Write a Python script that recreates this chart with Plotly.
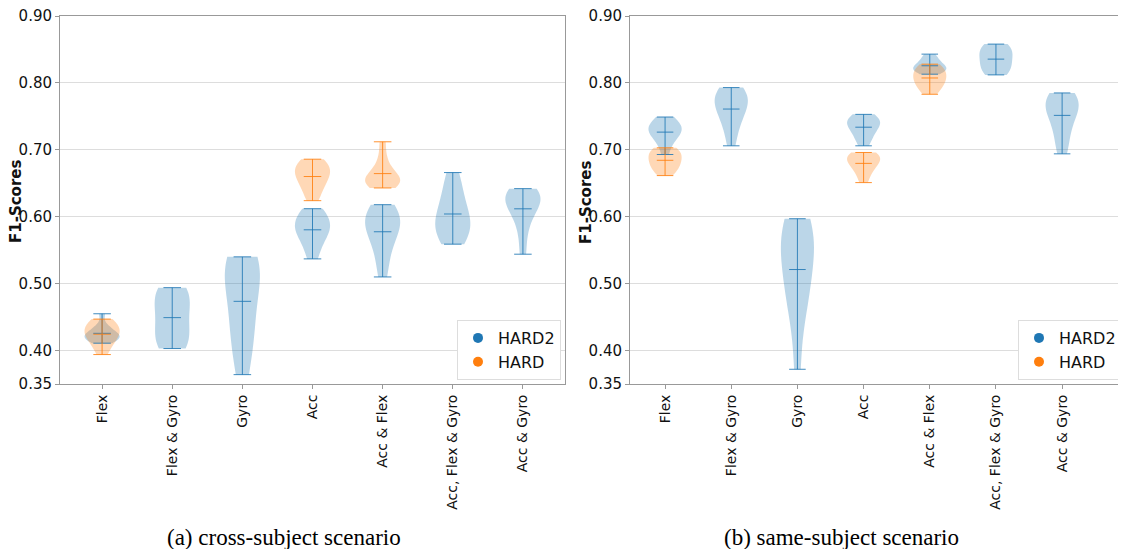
import numpy as np
import plotly.graph_objects as go

categories = ["Flex", "Flex & Gyro", "Gyro", "Acc", "Acc & Flex", "Acc, Flex & Gyro", "Acc & Gyro"]

# (a) cross-subject scenario
cross_hard2 = [
    [0.411, 0.414, 0.417, 0.419, 0.421, 0.423, 0.425, 0.428, 0.432, 0.438, 0.455],
    [0.403, 0.406, 0.415, 0.425, 0.437, 0.450, 0.462, 0.474, 0.484, 0.491, 0.494],
    [0.364, 0.395, 0.425, 0.440, 0.460, 0.490, 0.510, 0.520, 0.530, 0.535, 0.540],
    [0.537, 0.552, 0.565, 0.572, 0.578, 0.583, 0.588, 0.593, 0.599, 0.606, 0.612],
    [0.510, 0.535, 0.555, 0.568, 0.578, 0.585, 0.592, 0.598, 0.604, 0.610, 0.618],
    [0.559, 0.568, 0.576, 0.583, 0.590, 0.598, 0.607, 0.618, 0.632, 0.648, 0.666],
    [0.544, 0.575, 0.595, 0.607, 0.615, 0.621, 0.626, 0.631, 0.635, 0.639, 0.642],
]
cross_hard = [
    [0.394, 0.405, 0.413, 0.418, 0.422, 0.426, 0.430, 0.434, 0.438, 0.442, 0.447],
    None,
    None,
    [0.624, 0.636, 0.645, 0.652, 0.658, 0.663, 0.668, 0.672, 0.676, 0.681, 0.686],
    [0.643, 0.646, 0.649, 0.652, 0.655, 0.658, 0.662, 0.667, 0.675, 0.690, 0.712],
    None,
    None,
]

# (b) same-subject scenario
same_hard2 = [
    [0.693, 0.708, 0.716, 0.721, 0.725, 0.729, 0.732, 0.735, 0.739, 0.744, 0.749],
    [0.706, 0.728, 0.742, 0.752, 0.760, 0.767, 0.773, 0.778, 0.783, 0.788, 0.793],
    [0.372, 0.450, 0.480, 0.490, 0.515, 0.540, 0.555, 0.567, 0.578, 0.588, 0.597],
    [0.706, 0.715, 0.722, 0.728, 0.733, 0.737, 0.740, 0.743, 0.746, 0.749, 0.753],
    [0.813, 0.816, 0.818, 0.820, 0.822, 0.824, 0.826, 0.829, 0.833, 0.838, 0.843],
    [0.812, 0.815, 0.820, 0.826, 0.831, 0.836, 0.841, 0.846, 0.851, 0.855, 0.858],
    [0.694, 0.712, 0.728, 0.742, 0.752, 0.760, 0.766, 0.771, 0.776, 0.780, 0.785],
]
same_hard = [
    [0.6615, 0.668, 0.673, 0.677, 0.681, 0.685, 0.689, 0.693, 0.697, 0.700, 0.703],
    None,
    None,
    [0.651, 0.662, 0.670, 0.675, 0.679, 0.683, 0.686, 0.689, 0.692, 0.694, 0.696],
    [0.783, 0.790, 0.796, 0.800, 0.804, 0.808, 0.812, 0.816, 0.820, 0.824, 0.828],
    None,
    None,
]

y_ticks = [0.35, 0.40, 0.50, 0.60, 0.70, 0.80, 0.90]
y_tick_labels = ["0.35", "0.40", "0.50", "0.60", "0.70", "0.80", "0.90"]
series_names = ["HARD2", "HARD"]
captions = ["(a) cross-subject scenario", "(b) same-subject scenario"]

BLUE = "#1f77b4"
ORANGE = "#ff7f0e"
FILL = {BLUE: "rgba(31,119,180,0.3)", ORANGE: "rgba(255,127,14,0.3)"}
LINE = {BLUE: "rgba(31,119,180,0.85)", ORANGE: "rgba(255,127,14,0.85)"}
HALF = 0.125

fig = go.Figure()


def add_series(data, color, xref, yref):
    bx, by = [], []
    for i, vals in enumerate(data):
        if vals is None:
            continue
        pos = i + 1
        fig.add_trace(go.Violin(
            x=[pos] * len(vals), y=vals, xaxis=xref, yaxis=yref,
            width=0.5, scalemode="width", spanmode="hard",
            points=False, fillcolor=FILL[color],
            line=dict(color="rgba(0,0,0,0)", width=0),
            showlegend=False, hoverinfo="skip",
        ))
        lo, hi, mu = float(np.min(vals)), float(np.max(vals)), float(np.mean(vals))
        for v in (lo, mu, hi):
            bx += [pos - HALF, pos + HALF, None]
            by += [v, v, None]
        bx += [pos, pos, None]
        by += [lo, hi, None]
    fig.add_trace(go.Scatter(x=bx, y=by, mode="lines", xaxis=xref, yaxis=yref,
                             line=dict(color=LINE[color], width=1), showlegend=False,
                             hoverinfo="skip"))


add_series(cross_hard2, BLUE, "x", "y")
add_series(cross_hard, ORANGE, "x", "y")
add_series(same_hard2, BLUE, "x2", "y2")
add_series(same_hard, ORANGE, "x2", "y2")

for name, color in zip(series_names, [BLUE, ORANGE]):
    fig.add_trace(go.Scatter(x=[None], y=[None], mode="markers", name=name,
                             marker=dict(color=color, size=10),
                             xaxis="x", yaxis="y", legend="legend"))
    fig.add_trace(go.Scatter(x=[None], y=[None], mode="markers", name=name,
                             marker=dict(color=color, size=10),
                             xaxis="x2", yaxis="y2", legend="legend2"))

# page body adds an 8px offset; work in window pixels and convert
OFF = 8
W, H = 1126 - OFF, 549 - OFF


def px(xw):
    return (xw - OFF) / W


def py(yw):
    return 1 - (yw - OFF) / H


ydom = [py(384), py(16)]
ytickfont = dict(family="DejaVu Sans", size=15, color="#111")
xtickfont = dict(family="DejaVu Sans", size=14, color="#111")
axcol = "#999999"

common_x = dict(tickmode="array", tickvals=list(range(1, 8)), ticktext=categories,
                tickangle=-90, tickfont=xtickfont, showgrid=False, zeroline=False,
                showline=True, linecolor=axcol, mirror=True, ticks="outside",
                ticklen=4, tickcolor=axcol, automargin=False)
common_y = dict(tickmode="array", tickvals=y_ticks, ticktext=y_tick_labels,
                range=[0.35, 0.90], tickfont=ytickfont, showgrid=True,
                gridcolor="#dddddd", gridwidth=1, zeroline=False, showline=True,
                linecolor=axcol, mirror=True, ticks="outside", ticklen=4,
                tickcolor=axcol, automargin=False, ticklabeloverflow="allow")

legfont = dict(family="DejaVu Sans", size=16, color="#111")
fig.update_layout(
    width=W, height=H, autosize=False,
    margin=dict(l=0, r=0, t=0, b=0),
    paper_bgcolor="white", plot_bgcolor="white",
    violinmode="overlay",
    xaxis=dict(domain=[px(60), px(565)], range=[0.4, 7.6], anchor="y", **common_x),
    yaxis=dict(domain=ydom, anchor="x", **common_y),
    xaxis2=dict(domain=[px(630), px(1123)], range=[0.47, 7.92], anchor="y2", **common_x),
    yaxis2=dict(domain=ydom, anchor="x2", **common_y),
    legend=dict(x=px(561), y=py(380), xanchor="right", yanchor="bottom",
                bgcolor="white", bordercolor="#dddddd", borderwidth=1, font=legfont,
                tracegroupgap=0),
    legend2=dict(x=px(1122), y=py(380), xanchor="right", yanchor="bottom",
                 bgcolor="white", bordercolor="#dddddd", borderwidth=1, font=legfont,
                 tracegroupgap=0),
)

for xp in (16, 586):
    fig.add_annotation(text="<b>F1-Scores</b>", x=px(xp), y=py(202), xref="paper",
                       yref="paper", textangle=-90, showarrow=False,
                       xanchor="center", yanchor="middle",
                       font=dict(family="DejaVu Sans", size=15, color="#111"))

for cap, xp in zip(captions, (284, 841)):
    fig.add_annotation(text=cap, x=px(xp), y=py(537), xref="paper", yref="paper",
                       showarrow=False, xanchor="center", yanchor="middle",
                       font=dict(family="Liberation Serif", size=23, color="#000"))

fig.write_html("out.html")
